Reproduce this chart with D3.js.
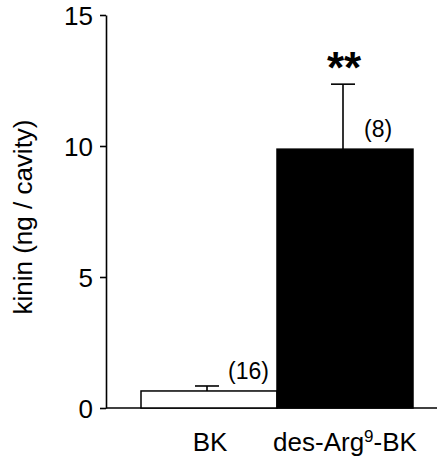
<!DOCTYPE html>
<meta charset="utf-8">
<script src="https://d3js.org/d3.v7.min.js"></script>
<style>
  body { margin: 0; background: #fff; }
  text { font-family: "Liberation Sans", Arial, sans-serif; fill: #000; }
</style>
<div id="chart"></div>
<script>

// data
var groups = ["BK", "des-Arg9-BK"];
var means = [0.65, 9.88];
var errs = [0.19, 2.48];
var nLabels = ["(16)", "(8)"];
var fills = ["#fff", "#000"];
var yTicks = [0, 5, 10, 15];

var width = 438, height = 462;

var svg = d3.select("#chart").append("svg")
    .attr("width", width)
    .attr("height", height);

var y = d3.scaleLinear()
    .domain([0, 15])
    .range([408, 15]);

var x = d3.scaleBand()
    .domain(groups)
    .range([141, 413])
    .padding(0);

// y axis
var yAxis = svg.append("g")
    .attr("transform", "translate(106,0)")
    .call(d3.axisLeft(y).tickValues(yTicks).tickSize(6).tickPadding(7).tickSizeOuter(0));
yAxis.select(".domain").attr("stroke-width", 1.6);
yAxis.selectAll(".tick line").attr("stroke-width", 1.6);
yAxis.selectAll(".tick text")
    .attr("font-size", 26)
    .attr("dy", "0.36em")
    .style("font-family", "Liberation Sans, Arial, sans-serif");

// x axis line
svg.append("line")
    .attr("x1", 106).attr("x2", 437)
    .attr("y1", y(0)).attr("y2", y(0))
    .attr("stroke", "#000").attr("stroke-width", 1.6);

// bars
svg.selectAll("rect.bar")
    .data(groups)
    .enter().append("rect")
    .attr("class", "bar")
    .attr("x", function(d) { return x(d); })
    .attr("y", function(d, i) { return y(means[i]); })
    .attr("width", x.bandwidth())
    .attr("height", function(d, i) { return y(0) - y(means[i]); })
    .attr("fill", function(d, i) { return fills[i]; })
    .attr("stroke", "#000")
    .attr("stroke-width", 1.5);

// error bars
var eb = svg.selectAll("g.err")
    .data(groups)
    .enter().append("g")
    .attr("class", "err");
eb.append("line")
    .attr("x1", function(d) { return x(d) + x.bandwidth() / 2 - 2; })
    .attr("x2", function(d) { return x(d) + x.bandwidth() / 2 - 2; })
    .attr("y1", function(d, i) { return y(means[i]); })
    .attr("y2", function(d, i) { return y(means[i] + errs[i]); })
    .attr("stroke", "#000").attr("stroke-width", 1.6);
eb.append("line")
    .attr("x1", function(d) { return x(d) + x.bandwidth() / 2 - 14; })
    .attr("x2", function(d) { return x(d) + x.bandwidth() / 2 + 10; })
    .attr("y1", function(d, i) { return y(means[i] + errs[i]); })
    .attr("y2", function(d, i) { return y(means[i] + errs[i]); })
    .attr("stroke", "#000").attr("stroke-width", 1.6);

// n labels
svg.selectAll("text.n")
    .data(groups)
    .enter().append("text")
    .attr("class", "n")
    .attr("x", function(d, i) { return x(d) + x.bandwidth() / 2 + 19; })
    .attr("y", function(d, i) { return y(means[i]) - 12; })
    .attr("font-size", 23)
    .text(function(d, i) { return nLabels[i]; });

// significance
svg.append("text")
    .attr("x", x(groups[1]) + x.bandwidth() / 2 - 1)
    .attr("y", y(means[1] + errs[1]) - 1)
    .attr("text-anchor", "middle")
    .attr("font-size", 44)
    .attr("font-weight", "bold")
    .text("**");

// category labels
svg.append("text")
    .attr("x", x(groups[0]) + x.bandwidth() / 2 + 1)
    .attr("y", 451)
    .attr("text-anchor", "middle")
    .attr("font-size", 26)
    .text("BK");
var c2 = svg.append("text")
    .attr("x", x(groups[1]) + x.bandwidth() / 2)
    .attr("y", 451)
    .attr("text-anchor", "middle")
    .attr("font-size", 26);
c2.append("tspan").text("des-Arg");
c2.append("tspan").attr("font-size", 17).attr("dy", -9).text("9");
c2.append("tspan").attr("dy", 9).text("-BK");

// y label
svg.append("text")
    .attr("transform", "translate(32,217) rotate(-90)")
    .attr("text-anchor", "middle")
    .attr("font-size", 26)
    .text("kinin (ng / cavity)");

</script>
